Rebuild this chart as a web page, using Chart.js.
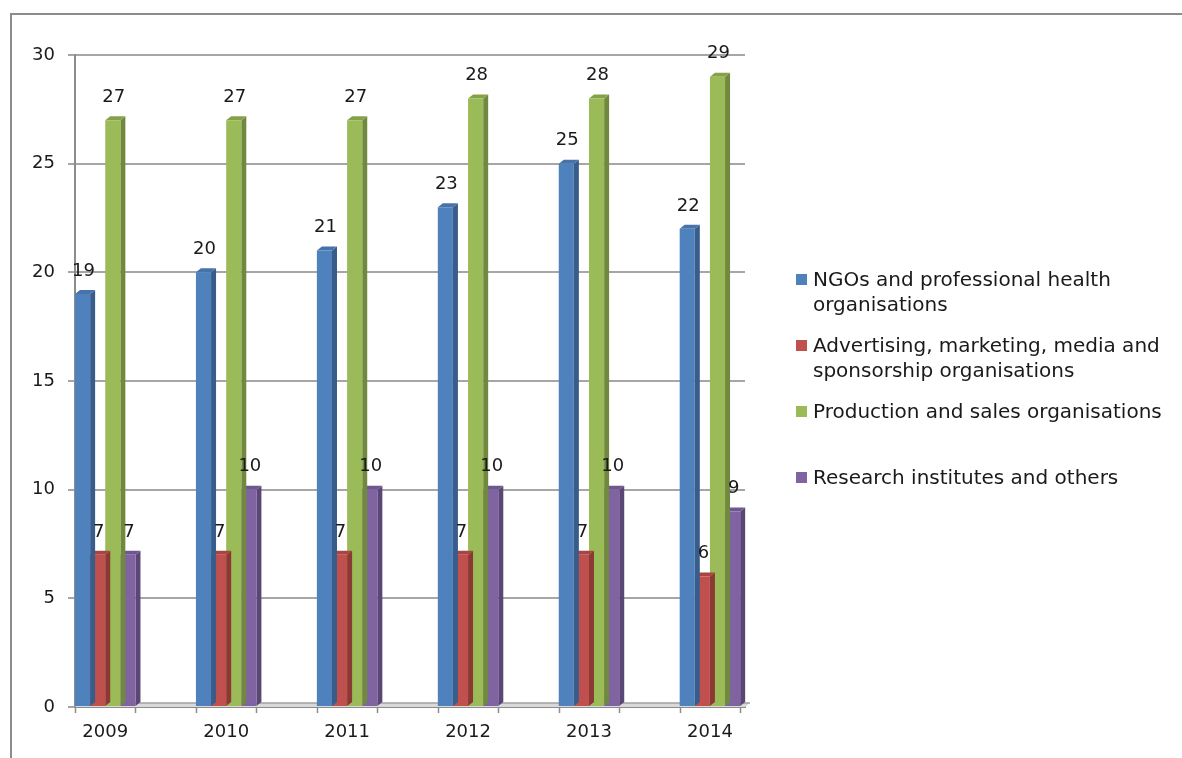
<!doctype html>
<html lang="en">
  <head>
    <meta charset="UTF-8" />
    <meta name="viewport" content="width=device-width, initial-scale=1.0" />
    <title>Members by category</title>
    <script src="https://cdn.jsdelivr.net/npm/chart.js"></script>
    <style>
      body { margin: 0; background: white; font-family: "DejaVu Sans", sans-serif; }
      #wrap { position: relative; width: 1182px; height: 758px; overflow: hidden; }
      #frame {
        position: absolute; left: 10px; top: 13px; right: -10px; bottom: -10px;
        border-left: 2px solid #8c8c8c; border-top: 2px solid #8c8c8c;
      }
      canvas { position: absolute; left: 0; top: 0; }
      #legend { position: absolute; left: 796px; top: 267px; font-size: 20px; color: #1a1a1a; }
      .item { display: flex; height: 66px; line-height: 25px; white-space: nowrap; }
      .swatch { width: 11px; height: 11px; margin: 7px 6px 0 0; flex: none; }
    </style>
  </head>
  <body>
    <div id="wrap">
      <div id="frame"></div>
      <canvas id="membersChart" width="1182" height="758"></canvas>
      <div id="legend"></div>
    </div>

    <script>
      const years = ["2009", "2010", "2011", "2012", "2013", "2014"];
      const ngos = [19, 20, 21, 23, 25, 22];
      const advertising = [7, 7, 7, 7, 7, 6];
      const production = [27, 27, 27, 28, 28, 29];
      const research = [7, 10, 10, 10, 10, 9];
      const yTicks = [0, 5, 10, 15, 20, 25, 30];
      const seriesNames = [
        ["NGOs and professional health", "organisations"],
        ["Advertising, marketing, media and", "sponsorship organisations"],
        ["Production and sales organisations"],
        ["Research institutes and others"],
      ];

      // front, side and top shades of each series
      const frontColors = ["#4f81bd", "#c0504d", "#9bbb59", "#8064a2"];
      const sideColors = ["#385d8a", "#8c3936", "#71893f", "#5b4776"];
      const topColors = ["#4673aa", "#a84442", "#85a24a", "#6e5690"];
      const dx = 5, dy = -4;
      const textColor = "#1a1a1a";
      const labelFont = '18px "DejaVu Sans"';

      const series = [ngos, advertising, production, research];

      // side and top faces go under each dataset so the next bar covers them
      const bar3d = {
        id: "bar3d",
        beforeDatasetsDraw(chart) {
          const { ctx, chartArea: a } = chart;
          ctx.save();
          ctx.fillStyle = "#d9d9d9";
          ctx.strokeStyle = "#a0a0a0";
          ctx.lineWidth = 1.5;
          ctx.beginPath();
          ctx.moveTo(a.left, a.bottom);
          ctx.lineTo(a.right, a.bottom);
          ctx.lineTo(a.right + dx, a.bottom + dy);
          ctx.lineTo(a.left + dx, a.bottom + dy);
          ctx.closePath();
          ctx.fill();
          ctx.beginPath();
          ctx.moveTo(a.left + dx, a.bottom + dy);
          ctx.lineTo(a.right + dx, a.bottom + dy);
          ctx.stroke();
          ctx.restore();
        },
        beforeDatasetDraw(chart, args) {
          const ctx = chart.ctx;
          const i = args.index;
          ctx.save();
          args.meta.data.forEach((bar) => {
            const { x, y, base, width } = bar.getProps(["x", "y", "base", "width"], true);
            const l = x - width / 2, r = x + width / 2;
            ctx.fillStyle = sideColors[i];
            ctx.beginPath();
            ctx.moveTo(r, y);
            ctx.lineTo(r + dx, y + dy);
            ctx.lineTo(r + dx, base + dy);
            ctx.lineTo(r, base);
            ctx.closePath();
            ctx.fill();
            ctx.fillStyle = topColors[i];
            ctx.beginPath();
            ctx.moveTo(l, y);
            ctx.lineTo(l + dx, y + dy);
            ctx.lineTo(r + dx, y + dy);
            ctx.lineTo(r, y);
            ctx.closePath();
            ctx.fill();
          });
          ctx.restore();
        },
        afterDatasetsDraw(chart) {
          const { ctx, chartArea: a } = chart;
          const xs = chart.scales.x;
          ctx.save();
          // tick marks at the edges of each group
          ctx.strokeStyle = "#8c8c8c";
          ctx.lineWidth = 1.5;
          years.forEach((_, i) => {
            [i - 0.25, i + 0.25].forEach((v) => {
              const px = Math.round(xs.getPixelForValue(v)) + 0.5;
              ctx.beginPath();
              ctx.moveTo(px, a.bottom);
              ctx.lineTo(px, a.bottom + 6);
              ctx.stroke();
            });
          });
          // value labels above the bars
          ctx.font = labelFont;
          ctx.fillStyle = textColor;
          ctx.textAlign = "center";
          ctx.textBaseline = "middle";
          chart.data.datasets.forEach((ds, di) => {
            chart.getDatasetMeta(di).data.forEach((bar, j) => {
              ctx.fillText(String(series[di][j]), bar.x + 1, bar.y - 23);
            });
          });
          ctx.restore();
        },
      };

      const ctx = document.getElementById("membersChart").getContext("2d");
      const myChart = new Chart(ctx, {
        type: "bar",
        data: {
          datasets: series.map((values, i) => ({
            label: seriesNames[i].join(" "),
            data: values.map((v, j) => ({ x: j, y: v })),
            backgroundColor: frontColors[i],
            borderWidth: 0,
            categoryPercentage: 0.5,
            barPercentage: 1,
          })),
        },
        options: {
          responsive: false,
          animation: false,
          layout: { padding: { top: 55, right: 437, left: 0, bottom: 0 } },
          plugins: { legend: { display: false }, tooltip: { enabled: false } },
          scales: {
            x: {
              type: "linear",
              offset: false,
              min: -0.25,
              max: 5.29,
              afterBuildTicks: (axis) => {
                axis.ticks = years.map((_, i) => ({ value: i }));
              },
              afterFit: (axis) => {
                axis.height = 51;
              },
              grid: { display: false, drawTicks: false },
              border: { display: true, color: "#8c8c8c", width: 2 },
              ticks: {
                callback: (v) => years[v],
                padding: 15,
                maxRotation: 0,
                color: textColor,
                font: { family: "DejaVu Sans", size: 18 },
              },
            },
            y: {
              min: 0,
              max: 30,
              afterBuildTicks: (axis) => {
                axis.ticks = yTicks.map((v) => ({ value: v }));
              },
              afterFit: (axis) => {
                axis.width = 75;
              },
              grid: { color: "#a6a6a6", lineWidth: 2, tickLength: 7 },
              border: { display: true, color: "#8c8c8c", width: 2 },
              ticks: {
                padding: 13,
                color: textColor,
                font: { family: "DejaVu Sans", size: 18 },
              },
            },
          },
        },
        plugins: [bar3d],
      });

      // legend with wrapped series names
      const legend = document.getElementById("legend");
      seriesNames.forEach((lines, i) => {
        const item = document.createElement("div");
        item.className = "item";
        const sw = document.createElement("div");
        sw.className = "swatch";
        sw.style.background = frontColors[i];
        const text = document.createElement("div");
        text.innerHTML = lines.join("<br>");
        item.appendChild(sw);
        item.appendChild(text);
        legend.appendChild(item);
      });
    </script>
  </body>
</html>
